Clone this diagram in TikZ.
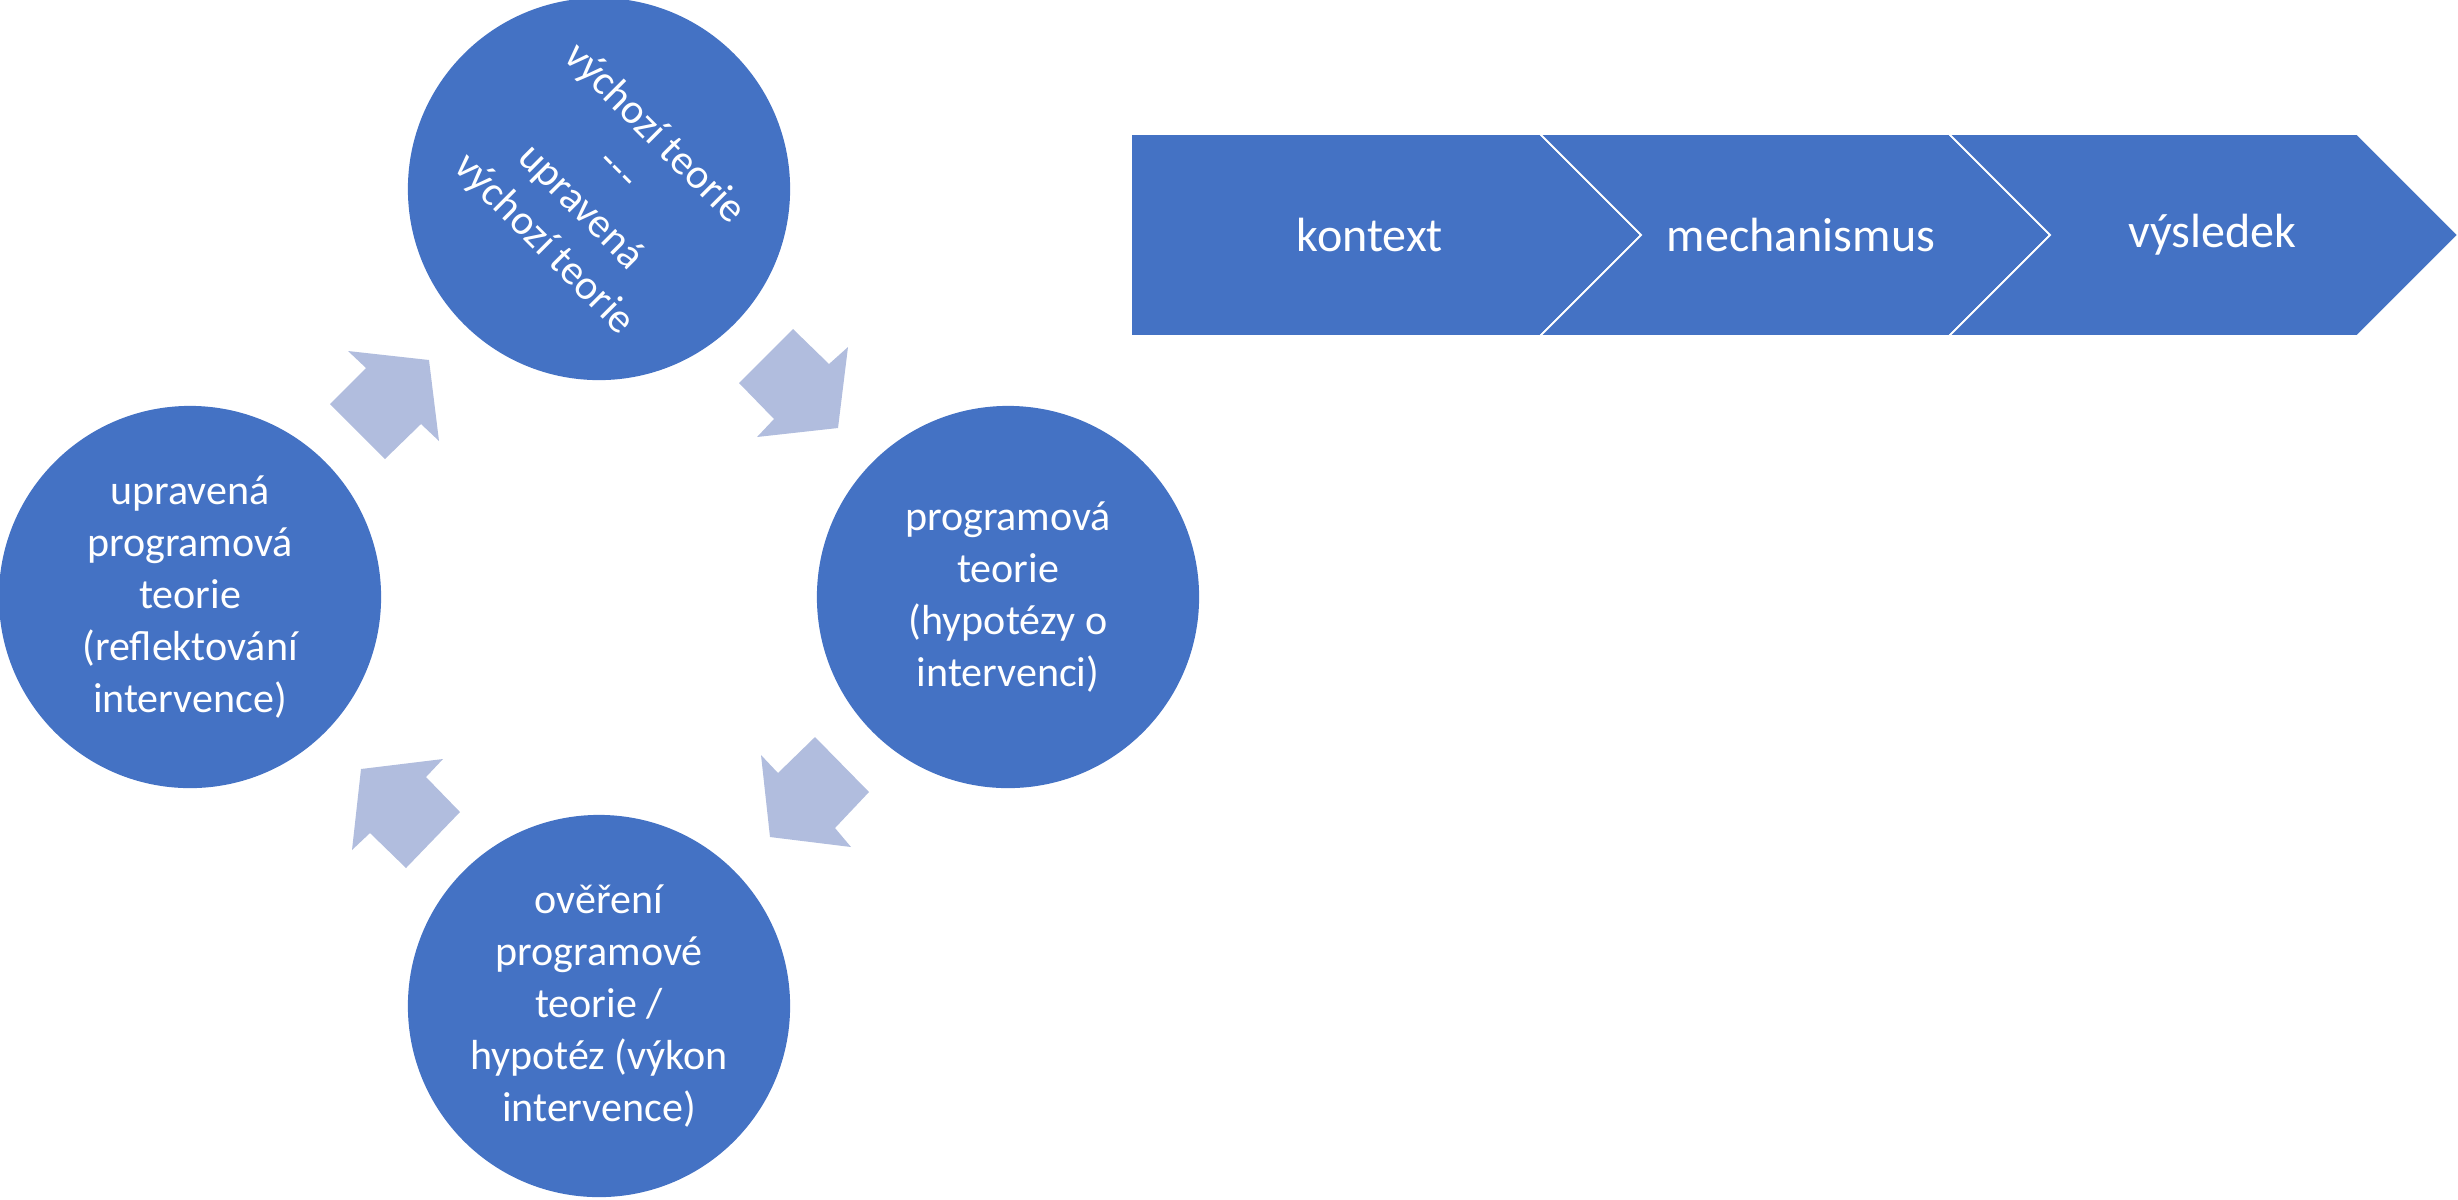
\documentclass[tikz,border=0pt]{standalone}
\usepackage{fontspec}
\setmainfont{Carlito}
\definecolor{cblue}{HTML}{4472C4}
\definecolor{carrow}{RGB}{177,189,222}
\begin{document}
\begin{tikzpicture}[x=0.01cm,y=-0.01cm,
  circ/.style={circle, fill=cblue, minimum size=3.82cm, inner sep=0pt, text=white, align=center, font=\fontsize{11.95}{14.8}\selectfont},
  ctext/.style={text=white, align=center, inner sep=0pt, font=\fontsize{11.95}{14.8}\selectfont},
  cyc/.style={fill=carrow},
  chev/.style={fill=cblue, draw=white, line width=0.5pt, line join=miter},
  chevtext/.style={text=white, inner sep=0pt, font=\fontsize{13.66}{16.6}\selectfont}]
\useasboundingbox (0,0) rectangle (2458,1199);

% circles
\node[circ] (top) at (599,189) {};
\node[ctext, rotate=-45] (toptext) at (top.center) {výchozí teorie\\\mbox{-}\mbox{-}\mbox{-}\\upravená\\výchozí teorie};
\node[circ] (right) at (1008,597) {programová\\teorie\\(hypotézy o\\intervenci)};
\node[circ] (bottom) at (599,1006) {ověření\\programové\\teorie /\\hypotéz (výkon\\intervence)};
\node[circ] (left) at (190,597) {upravená\\programová\\teorie\\(reflektování\\intervence)};

% cycle arrows
\fill[cyc] (348,351) -- (429,360) -- (439,441) -- (421,424) -- (385,459) -- (330,404) -- (366,368) -- cycle;
\fill[cyc] (793,329) -- (829,364) -- (848,347) -- (838,428) -- (757,437) -- (774,419) -- (739,383) -- cycle;
\fill[cyc] (815,737) -- (869,792) -- (835,828) -- (851,847) -- (770,837) -- (761,755) -- (778,773) -- cycle;
\fill[cyc] (443,759) -- (426,777) -- (460,812) -- (406,868) -- (370,833) -- (352,850) -- (361,769) -- cycle;

% chevrons
\draw[chev] (1131,134) -- (1540,134) -- (1641,235) -- (1540,336) -- (1131,336) -- cycle;
\draw[chev] (1540,134) -- (1949,134) -- (2050,235) -- (1949,336) -- (1540,336) -- (1641,235) -- cycle;
\draw[chev] (1949,134) -- (2357,134) -- (2458,235) -- (2357,336) -- (1949,336) -- (2050,235) -- cycle;
\node[chevtext] (kontext) at (1370,235) {kontext};
\node[chevtext] (mech) at (1801,235) {mechanismus};
\node[chevtext] (vysl) at (2212,235) {výsledek};
\end{tikzpicture}
\end{document}
